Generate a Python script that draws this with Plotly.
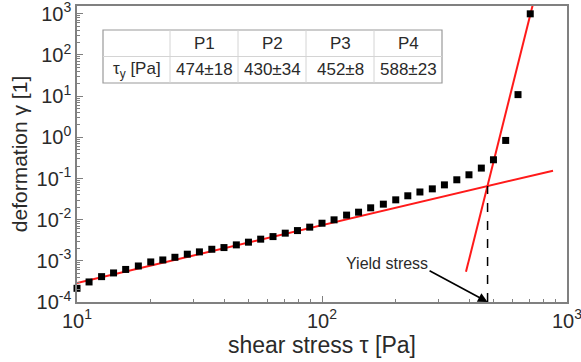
import plotly.graph_objects as go
import math

# ---- data ----
shear_stress = [10.0, 11.2, 12.6, 14.1, 15.8, 17.8, 20.0, 22.4, 25.1, 28.2,
                31.6, 35.5, 39.8, 44.7, 50.1, 56.2, 63.1, 70.8, 79.4, 89.1,
                100, 112, 126, 141, 158, 178, 200, 224, 251, 282,
                316, 355, 398, 447, 501, 562, 631, 708]
deformation = [2.15e-4, 3.07e-4, 4.13e-4, 5.08e-4, 6.18e-4, 7.5e-4, 9.4e-4, 1.05e-3, 1.22e-3, 1.45e-3,
               1.65e-3, 1.91e-3, 2.1e-3, 2.44e-3, 2.84e-3, 3.36e-3, 3.88e-3, 4.7e-3, 5.43e-3, 6.58e-3,
               8.2e-3, 9.9e-3, 1.29e-2, 1.52e-2, 1.94e-2, 2.38e-2, 0.0303, 0.038, 0.047, 0.056,
               0.070, 0.093, 0.123, 0.179, 0.285, 0.84, 10.9, 1000]

fit_low_x = [10, 877]
fit_low_y = [2.9e-4, 0.155]
fit_high_x = [387, 727]
fit_high_y = [5.4e-4, 1780]

yield_tau = 474
yield_line_y = [1e-4, 0.066]
arrow_tail = (271, 6.0e-4)
yield_label = "Yield stress"

table_header = ["", "P1", "P2", "P3", "P4"]
table_values = ["τ<sub>y</sub> [Pa]", "474±18", "430±34", "452±8", "588±23"]

x_tickvals = [10, 100, 1000]
x_ticktext = ["10<sup>1</sup>", "10<sup>2</sup>", "10<sup>3</sup>"]
y_tickvals = [1e-4, 1e-3, 1e-2, 1e-1, 1e0, 1e1, 1e2, 1e3]
y_ticktext = ["10<sup>-4</sup>", "10<sup>-3</sup>", "10<sup>-2</sup>", "10<sup>-1</sup>",
              "10<sup>0</sup>", "10<sup>1</sup>", "10<sup>2</sup>", "10<sup>3</sup>"]

# ---- layout geometry ----
W, H = 581, 362
ML, MR, MT, MB = 77, 14, 6, 60
PW, PH = W - ML - MR, H - MT - MB
FONT = "Liberation Sans, Arial, sans-serif"
TXT = "#2a2a2a"
AX = "#808080"


def px(xp):
    return (xp - ML) / PW


def py(yp):
    return (H - MB - yp) / PH


minor_vals = [m * 10 ** e for e in range(-4, 3) for m in range(2, 10)]

fig = go.Figure()
fig.add_trace(go.Scatter(x=fit_low_x, y=fit_low_y, mode="lines",
                         line=dict(color="#ff1a1a", width=2), showlegend=False))
fig.add_trace(go.Scatter(x=fit_high_x, y=fit_high_y, mode="lines",
                         line=dict(color="#ff1a1a", width=2), showlegend=False))
fig.add_trace(go.Scatter(x=[yield_tau, yield_tau], y=yield_line_y, mode="lines",
                         line=dict(color="black", width=1.5, dash="dash"), showlegend=False))
fig.add_trace(go.Scatter(x=shear_stress, y=deformation, mode="markers",
                         marker=dict(symbol="square", size=7, color="black"),
                         showlegend=False, cliponaxis=False))

# arrow + label
fig.add_annotation(x=math.log10(yield_tau), y=math.log10(1e-4), xref="x", yref="y",
                   ax=math.log10(arrow_tail[0]), ay=math.log10(arrow_tail[1]),
                   axref="x", ayref="y", text="", showarrow=True,
                   arrowhead=2, arrowsize=1.2, arrowwidth=1.6, arrowcolor="black", standoff=0)
fig.add_annotation(x=math.log10(arrow_tail[0]), y=math.log10(arrow_tail[1]), xref="x", yref="y",
                   text=yield_label, showarrow=False, xanchor="right", yanchor="bottom",
                   xshift=2, yshift=-4,
                   font=dict(family=FONT, size=16, color=TXT))

# ---- table (shapes + annotations) ----
tx0, tx1, ty0, ty1 = 103, 442, 30, 83
col_edges = [103, 170, 238, 306, 374, 442]
row_mid = 56.5
fig.add_shape(type="rect", xref="paper", yref="paper",
              x0=px(tx0), x1=px(tx1), y0=py(ty1), y1=py(ty0),
              line=dict(color="#9a9a9a", width=1.2), fillcolor="white", layer="above")
fig.add_shape(type="line", xref="paper", yref="paper",
              x0=px(tx0), x1=px(tx1), y0=py(row_mid), y1=py(row_mid),
              line=dict(color="#d4d4d4", width=1), layer="above")
for ce in col_edges[1:-1]:
    fig.add_shape(type="line", xref="paper", yref="paper",
                  x0=px(ce), x1=px(ce), y0=py(ty0), y1=py(ty1),
                  line=dict(color="#d4d4d4", width=1), layer="above")
for i in range(len(table_header)):
    cx = (col_edges[i] + col_edges[i + 1]) / 2
    if table_header[i]:
        fig.add_annotation(x=px(cx), y=py((ty0 + row_mid) / 2), xref="paper", yref="paper",
                           xanchor="center", yanchor="middle",
                           text=table_header[i], showarrow=False,
                           font=dict(family=FONT, size=17, color=TXT))
    fig.add_annotation(x=px(cx), y=py((row_mid + ty1) / 2), xref="paper", yref="paper",
                       xanchor="center", yanchor="middle",
                       text=table_values[i], showarrow=False,
                       font=dict(family=FONT, size=17, color=TXT))

fig.update_layout(
    width=W, height=H, margin=dict(l=ML, r=MR, t=MT, b=MB, autoexpand=False),
    paper_bgcolor="white", plot_bgcolor="white",
    font=dict(family=FONT, color=TXT),
    xaxis=dict(type="log", range=[1, 3], showgrid=False, zeroline=False,
               showline=True, linecolor=AX, linewidth=1.5, mirror=True,
               ticks="inside", ticklen=6, tickwidth=1, tickcolor=AX,
               tickmode="array", tickvals=x_tickvals, ticktext=x_ticktext,
               tickfont=dict(family=FONT, size=20, color=TXT),
               ticklabeloverflow="allow",
               minor=dict(ticks="inside", ticklen=3, tickcolor=AX, tickwidth=1,
                          tickmode="array", tickvals=minor_vals, showgrid=False),
               title=dict(text="shear stress τ [Pa]", standoff=2,
                          font=dict(family=FONT, size=23, color=TXT))),
    yaxis=dict(type="log", range=[-4, 3.19], showgrid=False, zeroline=False,
               showline=True, linecolor=AX, linewidth=1.5, mirror=True,
               ticks="inside", ticklen=6, tickwidth=1, tickcolor=AX,
               tickmode="array", tickvals=y_tickvals, ticktext=y_ticktext,
               tickfont=dict(family=FONT, size=20, color=TXT),
               ticklabeloverflow="allow",
               minor=dict(ticks="inside", ticklen=3, tickcolor=AX, tickwidth=1,
                          tickmode="array", tickvals=minor_vals, showgrid=False),
               title=dict(text="deformation γ [1]", standoff=3,
                          font=dict(family=FONT, size=21, color=TXT))),
)

fig.write_html("out.html")
